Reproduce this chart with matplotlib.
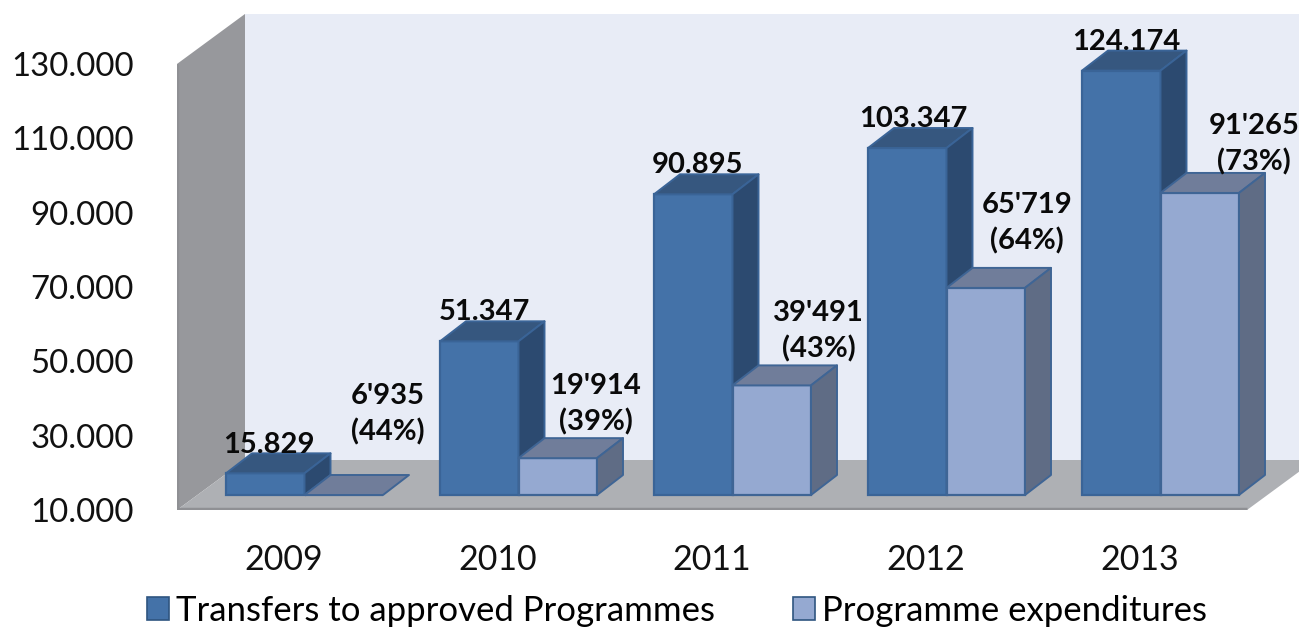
import matplotlib
matplotlib.use("Agg")
import matplotlib.pyplot as plt
from matplotlib.patches import Polygon, Patch

plt.rcParams['font.family'] = ['Lato', 'DejaVu Sans']

years = ['2009', '2010', '2011', '2012', '2013']
transfers = [15829, 51347, 90895, 103347, 124174]
expenditures = [6935, 19914, 39491, 65719, 91265]
shares = [44, 39, 43, 64, 73]
y_ticks = [10000, 30000, 50000, 70000, 90000, 110000, 130000]

# pixel sizes of the reference, turned into data units below
W, H = 1299, 628
left, right, top, bottom = 177, 1299, 13, 510
px_x = 1 / 214
px_y = 1000 / 3.717
base = 10000

fig = plt.figure(figsize=(W / 100, H / 100), dpi=100)
ax = fig.add_axes([left / W, 1 - bottom / H, (right - left) / W, (bottom - top) / H])
ax.set_xlim(-0.5, -0.5 + (right - left) * px_x)
ax.set_ylim(base, base + (bottom - top) * px_y)
ax.patch.set_visible(False)
for s in ax.spines.values():
    s.set_visible(False)

# walls and floor
wx = 68 * px_x
wy = 50 * px_y
x0, x1 = -0.5, 4.5
y0, y1 = base, 130000
ax.add_patch(Polygon([(x0 + wx, y0 + wy), (x1 + wx, y0 + wy), (x1 + wx, y1 + wy), (x0 + wx, y1 + wy)],
                     fc='#E8ECF6', ec='none', zorder=1))
ax.add_patch(Polygon([(x0, y0), (x0 + wx, y0 + wy), (x0 + wx, y1 + wy), (x0, y1)],
                     fc='#97989C', ec='none', zorder=2))
ax.add_patch(Polygon([(x0, y0), (x1, y0), (x1 + wx, y0 + wy), (x0 + wx, y0 + wy)],
                     fc='#AEB0B4', ec='none', zorder=2))
ax.plot([x0, x0], [y0, y1], color='#8F9094', lw=2.5, zorder=3, solid_capstyle='butt')
ax.plot([x0, x1], [y0 + 1.5 * px_y, y0 + 1.5 * px_y], color='#8F9094', lw=2.5, zorder=3, solid_capstyle='butt')

bw = 78.5 * px_x
start = -58 * px_x
dx = 26 * px_x
dy = 20 * px_y
lift = 15 * px_y


def draw_bars(offset, values, front, roof, side, edge, z):
    for i, v in enumerate(values):
        xl = i + offset
        xr = xl + bw
        b = base + lift
        t = max(v, base) + lift
        ax.bar(xl, t - b, bw, bottom=b, align='edge', color=front, edgecolor=edge, lw=1.6, zorder=z)
        ax.add_patch(Polygon([(xl, t), (xr, t), (xr + dx, t + dy), (xl + dx, t + dy)],
                             fc=roof, ec=edge, lw=1.4, zorder=z, joinstyle='round'))
        if t > b:
            ax.add_patch(Polygon([(xr, b), (xr + dx, b + dy), (xr + dx, t + dy), (xr, t)],
                                 fc=side, ec=edge, lw=1.4, zorder=z, joinstyle='round'))


draw_bars(start, transfers, '#4472A8', '#36577F', '#2C4A70', '#3A6497', 4)
draw_bars(start + bw, expenditures, '#95A9D1', '#707D9A', '#5F6C85', '#3F6595', 5)

# labels above the bars
offs_a = [(4, 28), (5, 29), (4, 29), (6, 29), (5, 29)]
offs_b = [(44, 81), (38, 54), (47, 54), (41, 65), (54, 49)]
for i in range(len(years)):
    t = f"{transfers[i]:,}".replace(',', '.')
    ax.annotate(t, (i + start + bw / 2, transfers[i] + lift), xytext=(offs_a[i][0] * 0.72, offs_a[i][1] * 0.72),
                textcoords='offset points', ha='center', va='center', fontsize=21, fontweight='bold',
                color='#0A0A0A', zorder=6)
    e = f"{expenditures[i]:,}".replace(',', "'")
    ax.annotate(f"{e}\n({shares[i]}%)", (i + start + bw * 1.5, max(expenditures[i], base) + lift),
                xytext=(offs_b[i][0] * 0.72, offs_b[i][1] * 0.72),
                textcoords='offset points', ha='center', va='center', fontsize=21, fontweight='bold',
                color='#0A0A0A', linespacing=1.42, zorder=6)

ax.set_yticks(y_ticks)
ax.set_yticklabels([f"{v:,}".replace(',', '.') for v in y_ticks], fontsize=23.7, color='#111111')
ax.set_xticks(range(len(years)))
ax.set_xticklabels(years, fontsize=24.5, color='#111111')
ax.tick_params(axis='y', length=0, pad=31)
ax.tick_params(axis='x', length=0, pad=24.5)

handles = [Patch(fc='#4472A8', ec='#2F5580', lw=1.2), Patch(fc='#95A9D1', ec='#2F5580', lw=1.2)]
fig.legend(handles, ['Transfers to approved Programmes', 'Programme expenditures'], ncol=2,
           loc='center', bbox_to_anchor=(677 / W, 1 - 611 / H), frameon=False, fontsize=25,
           handlelength=0.64, handleheight=0.64, handletextpad=0.2, columnspacing=2.25, borderpad=0)

fig.savefig('out.png', dpi=100)
